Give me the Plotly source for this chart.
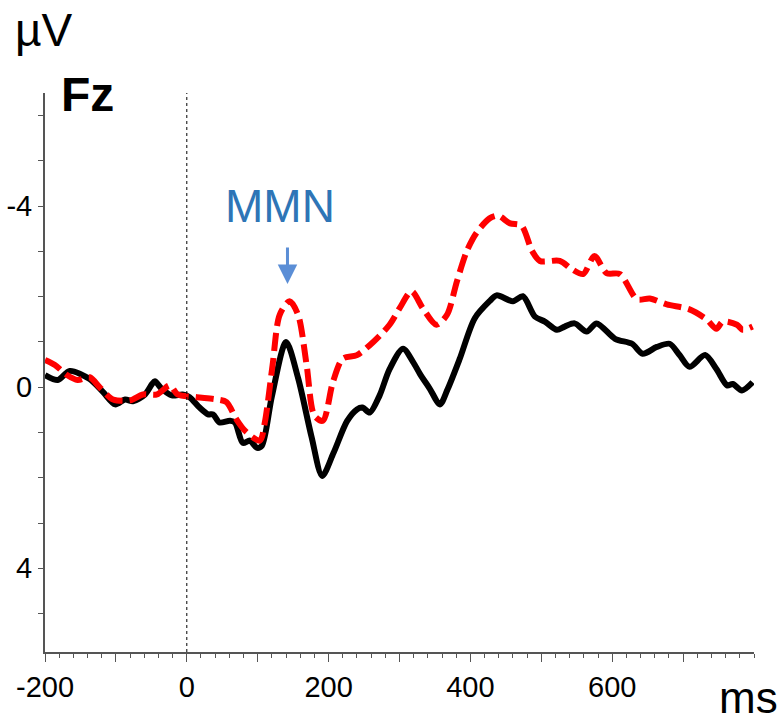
import plotly.graph_objects as go

# time (ms) and amplitude (µV)
t_std = [-200,-182,-165,-137,-118,-101,-87,-76,-59,-49,-45,-35,-21,-6,4,18,30,37,46,61,68,79,89,99,106,
         120,140,157,176,191,207,226,240,248,258,272,286,305,319,329,343,357,368,385,406,427,437,460,474,
         491,505,522,533,547,564,578,604,628,643,663,681,695,709,731,747,762,770,783,798]
v_std = [-0.27,-0.16,-0.36,-0.18,0.11,0.38,0.27,0.31,0.16,-0.07,-0.13,0.04,0.18,0.16,0.22,0.45,0.60,0.60,
         0.78,0.74,0.78,1.23,1.18,1.34,1.29,
         0.2,-1.0,-0.2,1.1,1.96,1.45,0.75,0.49,0.45,0.56,0.18,-0.40,-0.85,-0.56,-0.29,0.04,0.38,0.04,-0.63,
         -1.52,-1.90,-2.03,-1.90,-2.01,-1.56,-1.45,-1.27,-1.34,-1.41,-1.23,-1.41,-1.07,-0.96,-0.74,-0.89,
         -0.96,-0.71,-0.45,-0.71,-0.40,-0.04,-0.07,0.07,-0.11]

t_dev = [-200,-186,-169,-154,-137,-123,-104,-80,-62,-42,-24,-13,14,42,56,70,82,103,110,121,131,145,157,
         169,180,192,206,220,240,263,286,300,317,333,352,367,381,395,409,427,439,456,472,487,498,526,543,
         559,575,592,611,635,653,677,709,733,747,756,776,784,798]
v_dev = [-0.60,-0.49,-0.27,-0.16,-0.22,0.0,0.27,0.29,0.16,0.16,-0.04,0.16,0.22,0.27,0.33,0.71,0.96,1.18,
         0.78,-0.49,-1.6,-1.90,-1.60,-0.49,0.63,0.74,-0.11,-0.63,-0.71,-1.0,-1.38,-1.74,-2.12,-1.74,-1.38,
         -1.60,-2.34,-3.01,-3.42,-3.73,-3.79,-3.62,-3.57,-3.01,-2.79,-2.79,-2.61,-2.50,-2.90,-2.52,-2.50,
         -1.94,-1.96,-1.83,-1.72,-1.50,-1.29,-1.45,-1.38,-1.27,-1.34]

x_major = [-200,-100,0,100,200,300,400,500,600,700]
x_labels = ["-200","","0","","200","","400","","600",""]
y_major = [-4, 0, 4]
y_labels = ["-4", "0", "4"]

FONT = "Liberation Sans, Arial, sans-serif"

fig = go.Figure()
fig.add_trace(go.Scatter(x=t_std, y=v_std, mode="lines",
                         line=dict(color="black", width=6, shape="spline", smoothing=0.8),
                         showlegend=False, hoverinfo="skip"))
fig.add_trace(go.Scatter(x=t_dev, y=v_dev, mode="lines",
                         line=dict(color="#ff0000", width=6, shape="spline", smoothing=0.8, dash="18px,7px"),
                         showlegend=False, hoverinfo="skip"))

fig.add_shape(type="line", xref="x", yref="paper", x0=0, x1=0, y0=0, y1=1,
              line=dict(color="black", width=1, dash="dot"))

fig.update_layout(
    width=784, height=722,
    margin=dict(l=45, r=30, t=93, b=70, autoexpand=False),
    paper_bgcolor="white", plot_bgcolor="white",
    font=dict(family=FONT, color="black"),
    xaxis=dict(range=[-200, 800], showgrid=False, zeroline=False, automargin=False,
               showline=True, linecolor="#555555", linewidth=2,
               tickmode="array", tickvals=x_major, ticktext=x_labels,
               ticks="outside", ticklen=8, tickwidth=1, tickcolor="#555555",
               minor=dict(dtick=20, ticks="outside", ticklen=4, tickwidth=1, tickcolor="#555555"),
               tickfont=dict(size=29, family=FONT, color="black")),
    yaxis=dict(range=[5.85, -6.5], showgrid=False, zeroline=False, automargin=False,
               showline=True, linecolor="#555555", linewidth=2,
               tickmode="array", tickvals=y_major, ticktext=y_labels,
               ticks="outside", ticklen=5, tickwidth=1, tickcolor="#555555",
               minor=dict(dtick=1, tick0=0, ticks="outside", ticklen=5, tickwidth=1, tickcolor="#555555"),
               tickfont=dict(size=29, family=FONT, color="black")),
)

fig.add_annotation(xref="paper", yref="paper", x=-0.045, y=1.113, xanchor="left", yanchor="middle",
                   text="µV", showarrow=False, font=dict(size=46, family=FONT, color="black"))
fig.add_annotation(xref="paper", yref="paper", x=0.020, y=0.998, xanchor="left", yanchor="middle",
                   text="<b>Fz</b>", showarrow=False, font=dict(size=48, family=FONT, color="black"))
fig.add_annotation(xref="paper", yref="paper", x=1.036, y=-0.082, xanchor="right", yanchor="middle",
                   text="ms", showarrow=False, font=dict(size=44, family=FONT, color="black"))
fig.add_annotation(xref="x", yref="y", x=131, y=-4.0, xanchor="center", yanchor="middle",
                   text="MMN", showarrow=False, font=dict(size=46, family=FONT, color="#2E75B6"))
fig.add_annotation(xref="x", yref="y", x=142, y=-2.28, ax=0, ay=-38, text="",
                   showarrow=True, arrowhead=2, arrowsize=1.3, arrowwidth=3, arrowcolor="#5B8ED6")

fig.write_html("out.html")
